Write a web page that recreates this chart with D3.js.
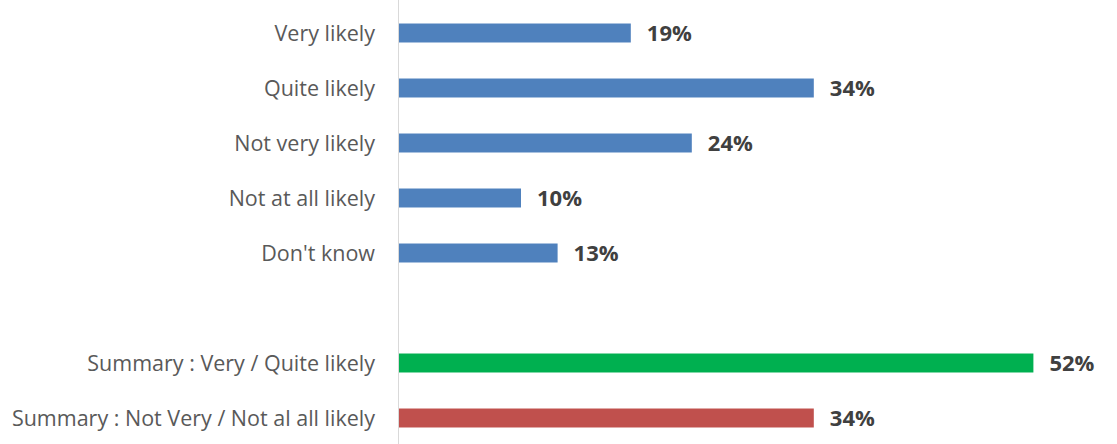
<!DOCTYPE html>
<html>
<head>
<meta charset="utf-8">
<script src="https://cdn.jsdelivr.net/npm/d3@7"></script>
<style>
  body { margin: 0; background: #fff; }
  text { font-family: "Open Sans", Lato, sans-serif; }
</style>
</head>
<body>
<div id="chart"></div>
<script>
'use strict'

var width = 1117;
var height = 444;

// answers, top to bottom
var categories = ["Very likely", "Quite likely", "Not very likely", "Not at all likely", "Don't know",
    "Summary : Very / Quite likely", "Summary : Not Very / Not al all likely"];
var values = [19, 34, 24, 10, 13, 52, 34];
var barColors = ["#4f81bd", "#4f81bd", "#4f81bd", "#4f81bd", "#4f81bd", "#00b050", "#c0504d"];

// empty row between the answers and the summaries
var rows = categories.slice(0, 5).concat(["__gap"], categories.slice(5));

var x0 = 399;
var x = d3.scaleLinear().domain([0, 60]).range([x0, x0 + 732]);
var y = d3.scaleBand().domain(rows).range([5.5, 445.5]).paddingInner(0.655).paddingOuter(0.3275);

var svg = d3.select("#chart").append("svg").attr("width", width).attr("height", height);

var data = categories.map(function(c, i) {
    return { name: c, value: values[i], color: barColors[i] };
});

svg.selectAll(".bar").data(data).enter().append("rect")
    .attr("class", "bar")
    .attr("x", x(0))
    .attr("y", function(d) { return y(d.name); })
    .attr("width", function(d) { return x(d.value) - x(0); })
    .attr("height", y.bandwidth())
    .style("fill", function(d) { return d.color; });

//vertical axis line
svg.append("line")
    .attr("x1", x(0) - 0.5).attr("x2", x(0) - 0.5)
    .attr("y1", 0).attr("y2", height)
    .style("stroke", "#d9d9d9").style("stroke-width", 1);

svg.selectAll(".cat").data(data).enter().append("text")
    .attr("class", "cat")
    .attr("x", x(0) - 24)
    .attr("y", function(d) { return y(d.name) + y.bandwidth() / 2; })
    .attr("dy", "0.35em")
    .attr("text-anchor", "end")
    .style("font-size", "21.5px")
    .style("fill", "#595959")
    .text(function(d) { return d.name; });

svg.selectAll(".val").data(data).enter().append("text")
    .attr("class", "val")
    .attr("x", function(d) { return x(d.value) + 16; })
    .attr("y", function(d) { return y(d.name) + y.bandwidth() / 2; })
    .attr("dy", "0.36em")
    .style("font-size", "22px")
    .style("font-weight", "bold")
    .style("fill", "#404040")
    .text(function(d) { return d.value + "%"; });
</script>
</body>
</html>
